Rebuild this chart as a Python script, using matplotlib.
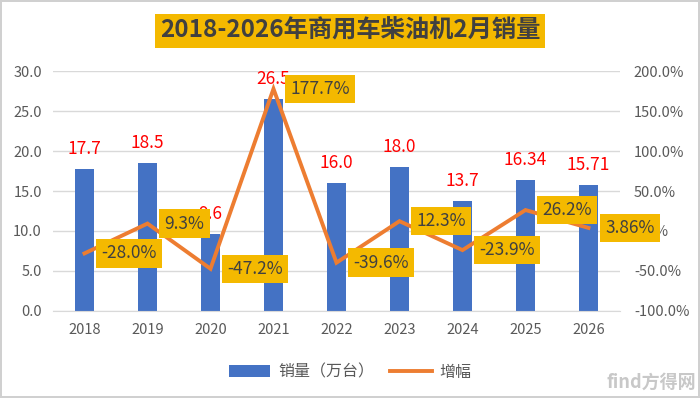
import matplotlib
matplotlib.use("Agg")
import matplotlib.pyplot as plt
from matplotlib.ticker import FormatStrFormatter, MultipleLocator

plt.rcParams['font.family'] = ['Noto Sans CJK SC', 'DejaVu Sans']

# ── Data ──────────────────────────────────────────────────────────────────────
years = ["2018", "2019", "2020", "2021", "2022", "2023", "2024", "2025", "2026"]
sales = [17.7, 18.5, 9.6, 26.5, 16.0, 18.0, 13.7, 16.34, 15.71]          # 万台
sales_labels = ["17.7", "18.5", "9.6", "26.5", "16.0", "18.0", "13.7", "16.34", "15.71"]
growth = [-28.0, 9.3, -47.2, 177.7, -39.6, 12.3, -23.9, 26.2, 3.86]      # %
growth_labels = ["-28.0%", "9.3%", "-47.2%", "177.7%", "-39.6%", "12.3%",
                 "-23.9%", "26.2%", "3.86%"]

title = "2018-2026年商用车柴油机2月销量"

BAR_C = "#4472C4"
LINE_C = "#ED7D31"
GOLD = "#F4B900"
GRID_C = "#D9D9D9"
TICK_C = "#595959"

# ── Figure ────────────────────────────────────────────────────────────────────
fig = plt.figure(figsize=(7.0, 3.98), dpi=100)
fig.patch.set_facecolor("white")
fig.patch.set_edgecolor("#D0D0D0")
fig.patch.set_linewidth(1.5)

ax = fig.add_axes([0.0757, 0.2186, 0.81, 0.603])
ax2 = ax.twinx()

x = list(range(len(years)))
bars = ax.bar(x, sales, width=0.31, color=BAR_C, zorder=2, label="销量（万台）")
line, = ax2.plot(x, growth, color=LINE_C, lw=2.8, solid_joinstyle="miter",
                 zorder=3, label="增幅")

ax.set_xlim(-0.5, len(years) - 0.5)
ax.set_ylim(0, 30)
ax2.set_ylim(-100, 200)
ax.yaxis.set_major_locator(MultipleLocator(5))
ax2.yaxis.set_major_locator(MultipleLocator(50))
ax.yaxis.set_major_formatter(FormatStrFormatter("%.1f"))
ax2.yaxis.set_major_formatter(FormatStrFormatter("%.1f%%"))
ax.set_xticks(x)
ax.set_xticklabels(years)

ax.grid(axis="y", color=GRID_C, lw=1.0, zorder=0)
ax.set_axisbelow(True)
for a in (ax, ax2):
    for s in a.spines.values():
        s.set_visible(False)
    a.tick_params(length=0, labelsize=10.5, colors=TICK_C)
ax.spines["bottom"].set_visible(True)
ax.spines["bottom"].set_color(GRID_C)
ax.tick_params(axis="y", pad=8)
ax.tick_params(axis="x", pad=9)
ax2.tick_params(axis="y", pad=10)

# bar value labels
for xi, v, lab in zip(x, sales, sales_labels):
    ax.annotate(lab, (xi, v), xytext=(0, 20), textcoords="offset pixels",
                ha="center", va="center", color="red", fontsize=12.5, zorder=4)

# growth labels in gold boxes
for xi, g, lab in zip(x, growth, growth_labels):
    ax2.annotate(lab, (xi, g), xytext=(17, 0), textcoords="offset pixels",
                 ha="left", va="center", color="#404040", fontsize=12.5,
                 zorder=5, annotation_clip=False,
                 bbox=dict(boxstyle="square,pad=0.3", fc=GOLD, ec="none"))

# title
fig.text(0.5, 0.922, title, ha="center", va="center", fontsize=17.5,
         fontweight="bold", color="#404040",
         bbox=dict(boxstyle="square,pad=0.2", fc=GOLD, ec="none"))

# legend
fig.legend([bars, line], ["销量（万台）", "增幅"], loc="center",
           bbox_to_anchor=(0.5, 0.065), ncol=2, frameon=False,
           fontsize=11.5, labelcolor=TICK_C, handlelength=2.6,
           columnspacing=1.0, handletextpad=0.5)

# watermark
fig.text(0.995, 0.015, "find方得网", ha="right", va="bottom", fontsize=13,
         color="#C8C8C8", fontweight="bold")

fig.savefig("out.png", dpi=100, facecolor=fig.get_facecolor(),
            edgecolor=fig.get_edgecolor())
